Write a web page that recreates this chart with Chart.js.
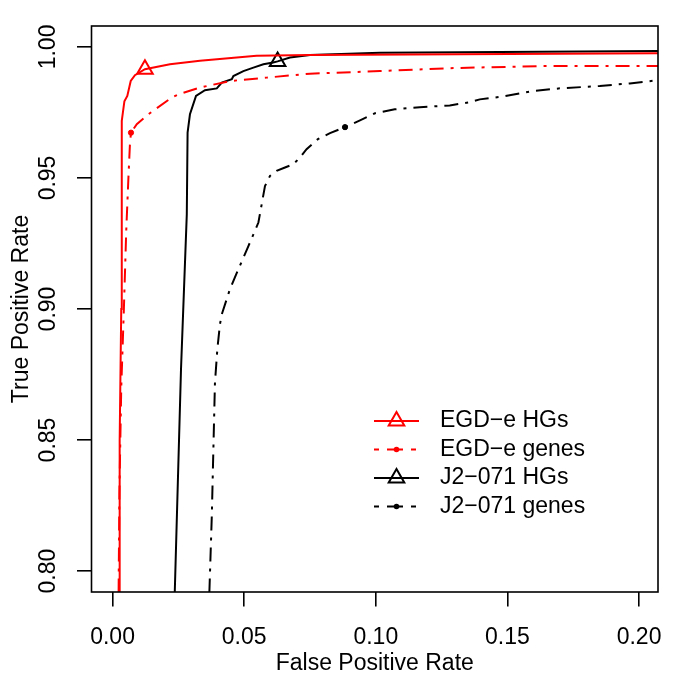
<!DOCTYPE html>
<html>
<head>
<meta charset="utf-8">
<title>ROC curves</title>
<script src="https://cdn.jsdelivr.net/npm/chart.js@4.4.0/dist/chart.umd.min.js"></script>
<style>
    html, body { margin: 0; padding: 0; background: #fff; }
    canvas { display: block; }
</style>
</head>
<body>
<canvas id="rocChart" width="685" height="685"></canvas>
<script>
// --- Values ---
const seriesLabels = ['EGD\u2212e HGs', 'EGD\u2212e genes', 'J2\u2212071 HGs', 'J2\u2212071 genes'];

const egdHgFpr = [0.0025, 0.0027, 0.0033, 0.0035, 0.0035, 0.0045, 0.0056, 0.0069, 0.0085, 0.0123, 0.0218, 0.0332, 0.0547, 0.075, 0.207, 0.25];
const egdHgTpr = [0.78, 0.85, 0.90, 0.936, 0.9718, 0.9793, 0.9813, 0.987, 0.9892, 0.9915, 0.9934, 0.9947, 0.9966, 0.9969, 0.9976, 0.9977];

const egdGenesFpr = [0.0022, 0.0026, 0.0033, 0.0043, 0.0052, 0.006, 0.0066, 0.0070, 0.0092, 0.0136, 0.0225, 0.025, 0.0332, 0.0446, 0.0585, 0.075, 0.1016, 0.128, 0.1623, 0.207, 0.25];
const egdGenesTpr = [0.78, 0.83, 0.87, 0.90, 0.93, 0.9495, 0.9629, 0.9673, 0.9705, 0.9743, 0.9807, 0.9819, 0.9845, 0.987, 0.9883, 0.9898, 0.9908, 0.9919, 0.9927, 0.9927, 0.9928];

const j2HgFpr = [0.0233, 0.026, 0.0282, 0.0285, 0.0294, 0.0317, 0.0351, 0.0396, 0.0415, 0.0453, 0.0459, 0.0497, 0.0535, 0.0573, 0.061, 0.0627, 0.0674, 0.075, 0.1016, 0.1623, 0.207, 0.25];
const j2HgTpr = [0.78, 0.877, 0.9361, 0.9673, 0.9743, 0.9813, 0.9835, 0.9842, 0.9864, 0.9877, 0.9889, 0.9908, 0.9921, 0.9934, 0.9941, 0.9945, 0.996, 0.9969, 0.9978, 0.9982, 0.9985, 0.9986];

const j2GenesFpr = [0.0364, 0.0377, 0.0383, 0.0389, 0.0398, 0.0408, 0.0415, 0.0446, 0.0478, 0.0516, 0.0554, 0.0579, 0.0598, 0.0623, 0.0655, 0.0686, 0.0712, 0.0737, 0.078, 0.0826, 0.0883, 0.094, 0.0997, 0.1072, 0.1167, 0.1281, 0.1357, 0.1395, 0.149, 0.1596, 0.1699, 0.1851, 0.1965, 0.207, 0.215];
const j2GenesTpr = [0.78, 0.821, 0.8465, 0.8719, 0.8846, 0.8942, 0.898, 0.9076, 0.9152, 0.924, 0.933, 0.9469, 0.9508, 0.9527, 0.954, 0.9552, 0.9578, 0.961, 0.9648, 0.9671, 0.9694, 0.972, 0.9747, 0.9762, 0.977, 0.9777, 0.9789, 0.98, 0.9812, 0.9832, 0.9842, 0.9851, 0.9861, 0.9873, 0.9877];

// the one marked cutoff on each curve
const markerIndex = [9, 7, 15, 20];

const xTickValues = [0, 0.05, 0.10, 0.15, 0.20];
const yTickValues = [0.80, 0.85, 0.90, 0.95, 1.00];

const FONT = "'Liberation Sans', Arial, Helvetica, sans-serif";
const FONT_SIZE = 23;
const RED = '#ff0000';
const DASH_DOT = [14, 7, 3, 7];

function toPoints(xs, ys) {
    return xs.map((x, i) => ({ x: x, y: ys[i] }));
}

function makeDataset(i, xs, ys, color, dash, style) {
    const isTriangle = style === 'triangle';
    return {
        label: seriesLabels[i],
        data: toPoints(xs, ys),
        showLine: true,
        borderColor: color,
        borderWidth: 2,
        borderDash: dash,
        tension: 0,
        clip: 0,
        pointStyle: style,
        pointRadius: ctx => ctx.dataIndex === markerIndex[i] ? (isTriangle ? 9 : 2.6) : 0,
        pointHoverRadius: 0,
        pointBorderColor: color,
        pointBorderWidth: isTriangle ? 2 : 1,
        pointBackgroundColor: isTriangle ? 'rgba(0,0,0,0)' : color
    };
}

// --- Box around the plot region (R style) ---
const framePlugin = {
    id: 'frame',
    afterDatasetsDraw(chart) {
        const { ctx, chartArea: a } = chart;
        ctx.save();
        ctx.strokeStyle = '#000';
        ctx.lineWidth = 1.6;
        ctx.strokeRect(a.left, a.top, a.right - a.left, a.bottom - a.top);
        ctx.restore();
    }
};

// --- Legend drawn inside the plot, lower right ---
const legendPlugin = {
    id: 'rocLegend',
    afterDraw(chart) {
        const ctx = chart.ctx;
        const lineX0 = 374, lineX1 = 419, textX = 440;
        const rowY = [421, 449.5, 478, 506.5];
        const r = 9;
        ctx.save();
        chart.data.datasets.forEach((ds, i) => {
            const y = rowY[i];
            const mid = (lineX0 + lineX1) / 2;
            ctx.strokeStyle = ds.borderColor;
            ctx.lineWidth = 2;
            ctx.setLineDash(ds.borderDash.length ? [5, 8, 16, 8] : []);
            ctx.beginPath();
            ctx.moveTo(lineX0, y);
            ctx.lineTo(lineX1, y);
            ctx.stroke();
            ctx.setLineDash([]);
            if (ds.pointStyle === 'triangle') {
                ctx.beginPath();
                ctx.moveTo(mid, y - r);
                ctx.lineTo(mid + Math.sin(2 * Math.PI / 3) * r, y + r / 2);
                ctx.lineTo(mid - Math.sin(2 * Math.PI / 3) * r, y + r / 2);
                ctx.closePath();
                ctx.stroke();
            } else {
                ctx.fillStyle = ds.borderColor;
                ctx.beginPath();
                ctx.arc(mid, y, 2.8, 0, Math.PI * 2);
                ctx.fill();
            }
            ctx.fillStyle = '#000';
            ctx.font = FONT_SIZE + 'px ' + FONT;
            ctx.textBaseline = 'middle';
            ctx.textAlign = 'left';
            ctx.fillText(ds.label, textX, y);
        });
        ctx.restore();
    }
};

const tickFont = { family: FONT, size: FONT_SIZE };

new Chart(document.getElementById('rocChart'), {
    type: 'scatter',
    data: {
        datasets: [
            makeDataset(0, egdHgFpr, egdHgTpr, RED, [], 'triangle'),
            makeDataset(1, egdGenesFpr, egdGenesTpr, RED, DASH_DOT, 'circle'),
            makeDataset(2, j2HgFpr, j2HgTpr, '#000', [], 'triangle'),
            makeDataset(3, j2GenesFpr, j2GenesTpr, '#000', DASH_DOT, 'circle')
        ]
    },
    options: {
        responsive: false,
        animation: false,
        events: [],
        layout: { padding: { top: 26, right: 27, bottom: 0, left: 0 } },
        plugins: { legend: { display: false }, tooltip: { enabled: false } },
        scales: {
            x: {
                type: 'linear',
                min: -0.008,
                max: 0.2072,
                afterBuildTicks: s => { s.ticks = xTickValues.map(v => ({ value: v })); },
                afterFit: s => { s.height = 93; },
                border: { display: false },
                grid: { drawOnChartArea: false, drawTicks: true, tickLength: 14.5, color: '#000', lineWidth: 1.6 },
                ticks: { color: '#000', font: tickFont, padding: 17.5, maxRotation: 0, callback: v => v.toFixed(2) },
                title: { display: true, text: 'False Positive Rate', color: '#000', font: tickFont, padding: { top: 0, bottom: 8 } }
            },
            y: {
                type: 'linear',
                min: 0.792,
                max: 1.008,
                afterBuildTicks: s => { s.ticks = yTickValues.map(v => ({ value: v })); },
                afterFit: s => { s.width = 91.5; },
                border: { display: false },
                grid: { drawOnChartArea: false, drawTicks: true, tickLength: 14.5, color: '#000', lineWidth: 1.6 },
                ticks: { color: '#000', font: tickFont, padding: 6, minRotation: 90, maxRotation: 90, crossAlign: 'center', callback: v => v.toFixed(2) },
                title: { display: true, text: 'True Positive Rate', color: '#000', font: tickFont, padding: { top: 7.5, bottom: 0 } }
            }
        }
    },
    plugins: [framePlugin, legendPlugin]
});
</script>
</body>
</html>
